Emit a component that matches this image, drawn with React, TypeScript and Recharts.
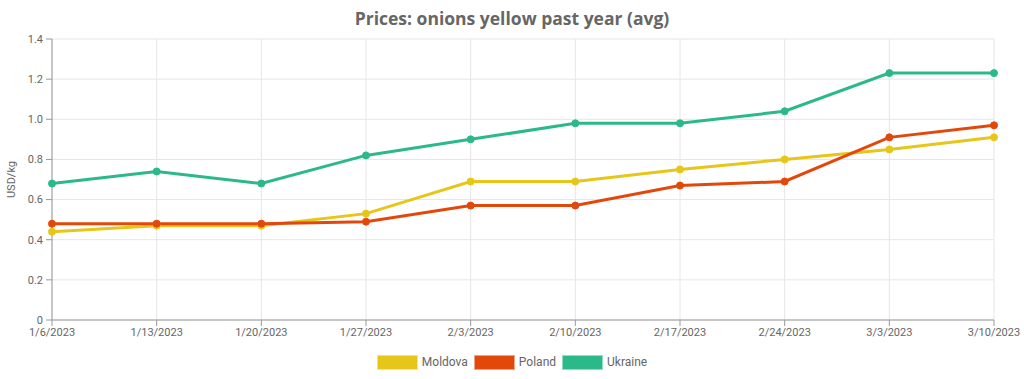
import React from "react";
import { LineChart, Line, XAxis, YAxis, CartesianGrid, Legend } from "recharts";

const dates = ["1/6/2023", "1/13/2023", "1/20/2023", "1/27/2023", "2/3/2023", "2/10/2023", "2/17/2023", "2/24/2023", "3/3/2023", "3/10/2023"];
const moldova = [0.44, 0.47, 0.47, 0.53, 0.69, 0.69, 0.75, 0.8, 0.85, 0.91];
const poland = [0.48, 0.48, 0.48, 0.49, 0.57, 0.57, 0.67, 0.69, 0.91, 0.97];
const ukraine = [0.68, 0.74, 0.68, 0.82, 0.9, 0.98, 0.98, 1.04, 1.23, 1.23];
const yTicks = [0, 0.2, 0.4, 0.6, 0.8, 1.0, 1.2, 1.4];

const series = [
  { key: "moldova", name: "Moldova", color: "#e6c619" },
  { key: "poland", name: "Poland", color: "#e3480b" },
  { key: "ukraine", name: "Ukraine", color: "#2bb98a" },
];

const font = "Roboto, sans-serif";

const LegendContent = () => (
  <div style={{ display: "flex", justifyContent: "center", alignItems: "center", height: 24, fontFamily: font, fontSize: 12, color: "#666" }}>
    {series.map((s) => (
      <div key={s.key} style={{ display: "flex", alignItems: "center", marginLeft: 3, marginRight: 3 }}>
        <span style={{ display: "inline-block", width: 39, height: 13, background: s.color, border: "1px solid rgba(255,255,255,0.5)", marginRight: 4 }} />
        <span>{s.name}</span>
      </div>
    ))}
  </div>
);

const YLabel = (props: any) => {
  const vb = props.viewBox;
  const cx = 11;
  const cy = vb.y + vb.height / 2;
  return (
    <text x={cx} y={cy} transform={`rotate(-90 ${cx} ${cy})`} textAnchor="middle" dominantBaseline="central" fill="#666" fontSize={11} fontFamily={font}>
      USD/kg
    </text>
  );
};

export default function App() {
  const data = dates.map((d, i) => ({
    date: d,
    moldova: moldova[i],
    poland: poland[i],
    ukraine: ukraine[i],
  }));

  return (
    <div style={{ position: "absolute", left: 0, top: 0, width: 1024, height: 379, background: "#fff" }}>
      <div
        style={{
          position: "absolute",
          left: 0,
          top: 6,
          width: 1024,
          textAlign: "center",
          fontFamily: "'Open Sans', sans-serif",
          fontWeight: 700,
          fontSize: 17.5,
          color: "#666",
        }}
      >
        Prices: onions yellow past year (avg)
      </div>
      <LineChart width={1024} height={379} data={data} margin={{ top: 39, right: 30, left: 0, bottom: 5 }}>
        <CartesianGrid stroke="#e6e6e6" />
        <XAxis
          dataKey="date"
          height={30}
          interval={0}
          stroke="#999"
          tick={{ fill: "#666", fontSize: 11, fontFamily: font }}
          tickSize={6}
          tickMargin={2}
        />
        <YAxis
          width={52}
          domain={[0, 1.4]}
          ticks={yTicks}
          tickFormatter={(v: number) => (v === 0 ? "0" : v.toFixed(1))}
          stroke="#999"
          tick={{ fill: "#666", fontSize: 11, fontFamily: font }}
          tickSize={6}
          tickMargin={3}
          label={<YLabel />}
        />
        <Legend verticalAlign="bottom" height={24} wrapperStyle={{ left: 0, width: 1024 }} content={<LegendContent />} />
        {series.map((s) => (
          <Line
            key={s.key}
            type="linear"
            dataKey={s.key}
            name={s.name}
            stroke={s.color}
            strokeWidth={3}
            dot={{ r: 3.5, fill: s.color, stroke: s.color, strokeWidth: 1 }}
            isAnimationActive={false}
          />
        ))}
      </LineChart>
    </div>
  );
}
